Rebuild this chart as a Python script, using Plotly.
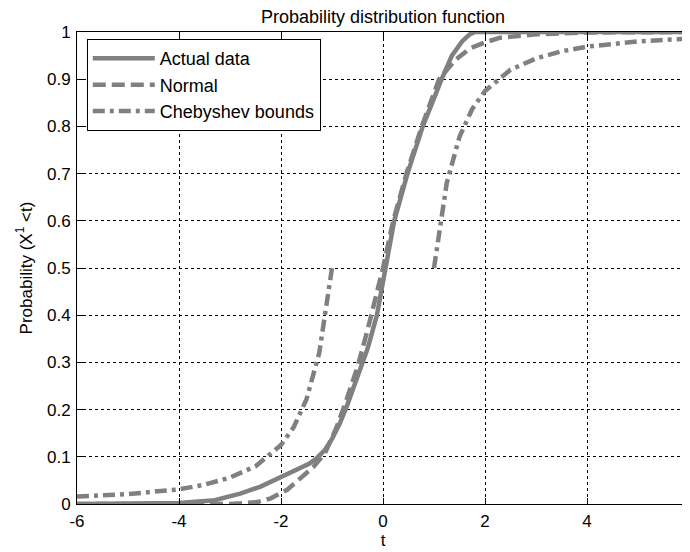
import plotly.graph_objects as go

# ---- data ----
actual_t = [-6.0, -4.6, -4.0, -3.3, -2.8, -2.4, -2.0, -1.75, -1.6, -1.45, -1.3, -1.15, -1.0,
            -0.85, -0.7, -0.5, -0.3, -0.12, 0.04, 0.22, 0.48, 0.78, 1.15, 1.35, 1.55, 1.7,
            1.8, 6.0]
actual_p = [0.0, 0.0, 0.002, 0.008, 0.022, 0.037, 0.057, 0.068, 0.076, 0.085, 0.097, 0.113,
            0.138, 0.17, 0.21, 0.27, 0.33, 0.4, 0.5, 0.6, 0.7, 0.8, 0.9, 0.95, 0.98, 0.995,
            1.0, 1.0]

normal_t = [-6.0, -3.0, -2.47, -2.2, -1.88, -1.6, -1.37, -1.14, -0.92, -0.75, -0.5, -0.3, -0.16,
            0.0, 0.2, 0.46, 0.76, 1.1, 1.41, 1.7, 2.0, 2.3, 3.0, 4.0, 6.0]
normal_p = [0.0, 0.0, 0.004, 0.012, 0.03, 0.055, 0.078, 0.107, 0.16, 0.21, 0.29, 0.37, 0.43,
            0.5, 0.6, 0.7, 0.8, 0.9, 0.94, 0.965, 0.978, 0.988, 0.995, 0.999, 1.0]

cheb_low_t = [-6.0, -5.0, -4.0, -3.5, -3.0, -2.5, -2.0, -1.75, -1.5, -1.25, -1.0]
cheb_low_p = [0.016, 0.021, 0.031, 0.041, 0.056, 0.08, 0.125, 0.163, 0.222, 0.32, 0.5]
cheb_up_t = [1.0, 1.25, 1.5, 1.75, 2.0, 2.5, 3.0, 3.5, 4.0, 5.0, 6.0]
cheb_up_p = [0.5, 0.68, 0.778, 0.837, 0.875, 0.92, 0.944, 0.959, 0.969, 0.98, 0.986]

x_tickvals = [-6, -4, -2, 0, 2, 4, 6]
x_ticktext = ["-6", "-4", "-2", "0", "2", "4", "6"]
y_tickvals = [0, 0.1, 0.2, 0.3, 0.4, 0.5, 0.6, 0.7, 0.8, 0.9, 1]
y_ticktext = ["0", "0.1", "0.2", "0.3", "0.4", "0.5", "0.6", "0.7", "0.8", "0.9", "1"]

GRAY = "#808080"
FONT = "Liberation Sans, Arial, sans-serif"

fig = go.Figure()
fig.add_trace(go.Scatter(x=actual_t, y=actual_p, mode="lines", name="Actual data",
                         line=dict(color=GRAY, width=4.5)))
fig.add_trace(go.Scatter(x=normal_t, y=normal_p, mode="lines", name="Normal",
                         line=dict(color=GRAY, width=4.5, dash="13px,6px")))
fig.add_trace(go.Scatter(x=cheb_low_t + [None] + cheb_up_t,
                         y=cheb_low_p + [None] + cheb_up_p, mode="lines",
                         name="Chebyshev bounds", connectgaps=False,
                         line=dict(color=GRAY, width=4.5, dash="12px,5px,4px,5px")))

axis_common = dict(
    showline=True, linecolor="black", linewidth=1, mirror="ticks",
    ticks="inside", ticklen=6, tickcolor="black", tickwidth=1,
    showgrid=True, gridcolor="black", gridwidth=1, griddash="3px,3px",
    zeroline=False, tickfont=dict(family=FONT, size=17, color="black"),
)

fig.update_xaxes(range=[-6, 6], tickvals=x_tickvals, ticktext=x_ticktext,
                 title=dict(text="t", font=dict(family=FONT, size=17, color="black"), standoff=3),
                 ticklabelstandoff=2, **axis_common)
fig.update_yaxes(range=[0, 1], tickvals=y_tickvals, ticktext=y_ticktext,
                 title=dict(text="Probability (X<sup>1</sup> &lt;t)",
                            font=dict(family=FONT, size=17, color="black"), standoff=10),
                 ticklabelstandoff=2, **axis_common)

fig.update_layout(
    width=690, height=552,
    margin=dict(l=69, r=9, t=24, b=56, autoexpand=False),
    paper_bgcolor="white", plot_bgcolor="white",
    title=dict(text="Probability distribution function", x=0.5, xref="paper", xanchor="center",
               y=0.985, yanchor="middle", font=dict(family=FONT, size=18, color="black")),
    showlegend=True,
    legend=dict(x=0.016, y=0.985, xanchor="left", yanchor="top",
                bgcolor="white", bordercolor="black", borderwidth=1,
                font=dict(family=FONT, size=18, color="black"),
                itemwidth=62, tracegroupgap=0),
)

fig.write_html("out.html")
